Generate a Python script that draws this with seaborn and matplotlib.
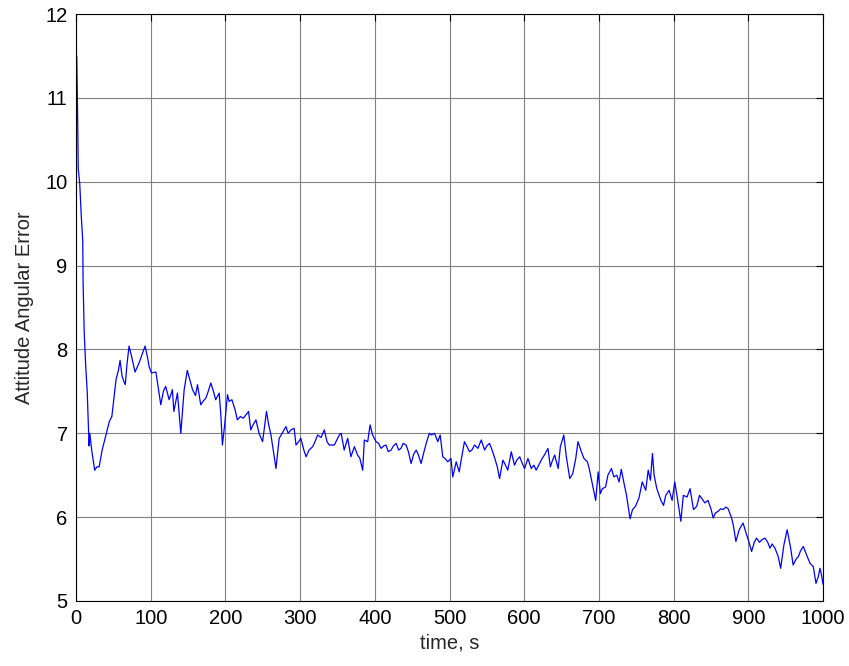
import matplotlib
matplotlib.use("Agg")
import matplotlib.pyplot as plt
import seaborn as sns
import pandas as pd

time_s = [
    1, 2, 3, 5, 7, 9, 9.5, 11, 13, 15, 16.5, 17.5, 18.5, 21, 25, 28, 31, 35, 39, 42,
    44.6, 48, 50.5, 53.6, 57, 59, 61.7, 64, 66, 68, 71, 74.6, 79, 84.5, 88, 92.5, 95.6, 98,
    101, 107, 110, 113.5, 117, 120, 124.7, 129, 131, 135.8, 140.3, 144.8, 149, 152, 156,
    160, 162.6, 167, 170, 173.9, 177, 180.5, 184, 187, 191.7, 194, 196, 199, 202.8, 205,
    208.7, 213, 216, 220, 224, 227.5, 231, 234, 237, 240.9, 245, 249.8, 255, 258, 261,
    265.4, 267.7, 272, 276, 281, 284, 287.8, 292, 294.5, 298, 301, 305, 308, 312, 316.8,
    320, 323.5, 328, 332.4, 336, 339, 345.8, 352.5, 355, 359, 363.7, 368, 372.7, 377, 380,
    383.8, 386, 390.5, 393.7, 397, 401.7, 405, 408.4, 412, 415, 418, 421.8, 425, 428.5,
    432, 435, 438, 442, 445, 448.6, 452, 455.4, 458, 462, 465, 468.8, 473, 476, 480,
    484.3, 487.5, 491, 494, 497.7, 502, 504.4, 509, 513, 516, 520, 523, 526.8, 530, 533.5,
    538, 542.5, 547, 550, 553.6, 557, 560, 564, 567, 571.5, 575, 578, 582.7, 587, 590,
    594, 597, 600.5, 605, 609.5, 613, 616, 620.6, 624, 627, 631.8, 635, 638, 640.8, 645.5,
    648.4, 653, 656.4, 661, 665, 669, 672, 676.5, 680, 684.6, 687, 690, 693.4, 695.7, 699,
    702, 704.7, 709, 712, 716.8, 720, 724, 727, 730, 733.7, 737, 741.7, 745, 749, 753.7,
    758, 762.7, 766, 769, 771.7, 773.9, 777.5, 783, 786.5, 789.5, 794, 798, 801.6, 805,
    809.7, 813, 818, 822, 826.6, 831, 834.7, 838, 841.8, 846, 850, 853, 856, 859.7, 863,
    866, 870, 873, 877.6, 880, 883.4, 887.8, 893, 897.7, 901, 904.4, 908, 911, 915, 918,
    922.3, 926, 929, 932, 935.7, 940, 943.3, 947.7, 952, 956.7, 960, 964, 967, 970, 973.6,
    978, 982.6, 987, 990.6, 993.7, 996, 998, 1000,
]

angular_error = [
    11.5, 10.9, 10.15, 9.98, 9.6, 9.3, 8.8, 8.2, 7.8, 7.5, 7.12, 6.85, 7.0, 6.8, 6.56, 6.6, 6.6, 6.8, 6.94, 7.05,
    7.14, 7.2, 7.4, 7.64, 7.76, 7.87, 7.68, 7.62, 7.58, 7.8, 8.04, 7.91, 7.73, 7.84, 7.93, 8.04, 7.91, 7.79,
    7.72, 7.73, 7.55, 7.34, 7.5, 7.56, 7.40, 7.52, 7.26, 7.48, 7.0, 7.52, 7.75, 7.65, 7.52,
    7.45, 7.58, 7.34, 7.38, 7.42, 7.5, 7.60, 7.5, 7.40, 7.48, 7.20, 6.86, 7.1, 7.46, 7.38,
    7.40, 7.28, 7.16, 7.2, 7.18, 7.22, 7.26, 7.04, 7.1, 7.16, 7.0, 6.90, 7.26, 7.1, 6.98,
    6.72, 6.58, 6.94, 7.0, 7.08, 7.0, 7.04, 7.06, 6.86, 6.9, 6.94, 6.8, 6.72, 6.8, 6.84,
    6.9, 6.98, 6.95, 7.04, 6.9, 6.86, 6.86, 6.98, 7.0, 6.80, 6.94, 6.72, 6.84, 6.74, 6.7,
    6.56, 6.92, 6.90, 7.10, 6.98, 6.90, 6.88, 6.82, 6.85, 6.86, 6.78, 6.80, 6.85, 6.88,
    6.8, 6.82, 6.88, 6.86, 6.78, 6.64, 6.75, 6.80, 6.75, 6.64, 6.75, 6.88, 7.0, 6.98, 7.0,
    6.90, 6.98, 6.72, 6.7, 6.66, 6.70, 6.48, 6.66, 6.54, 6.7, 6.90, 6.85, 6.78, 6.8, 6.86,
    6.82, 6.92, 6.80, 6.85, 6.88, 6.8, 6.72, 6.6, 6.46, 6.68, 6.62, 6.56, 6.78, 6.62, 6.68,
    6.72, 6.65, 6.58, 6.70, 6.58, 6.62, 6.56, 6.64, 6.7, 6.74, 6.82, 6.60, 6.68, 6.74, 6.58,
    6.84, 6.98, 6.72, 6.46, 6.52, 6.7, 6.90, 6.78, 6.70, 6.66, 6.58, 6.45, 6.30, 6.20, 6.54,
    6.28, 6.34, 6.36, 6.50, 6.58, 6.48, 6.50, 6.42, 6.57, 6.40, 6.26, 5.98, 6.09, 6.13, 6.23,
    6.42, 6.32, 6.56, 6.44, 6.76, 6.50, 6.34, 6.20, 6.14, 6.26, 6.32, 6.20, 6.42, 6.23,
    5.95, 6.26, 6.24, 6.34, 6.09, 6.13, 6.26, 6.22, 6.17, 6.20, 6.1, 5.99, 6.05, 6.07, 6.1,
    6.09, 6.12, 6.10, 5.99, 5.9, 5.71, 5.85, 5.93, 5.79, 5.7, 5.59, 5.7, 5.75, 5.7, 5.73,
    5.75, 5.7, 5.63, 5.68, 5.63, 5.53, 5.39, 5.67, 5.85, 5.63, 5.43, 5.5, 5.53, 5.6, 5.65,
    5.55, 5.45, 5.41, 5.21, 5.29, 5.39, 5.31, 5.2,
]

x_ticks = [0, 100, 200, 300, 400, 500, 600, 700, 800, 900, 1000]
y_ticks = [5, 6, 7, 8, 9, 10, 11, 12]
x_label = "time, s"
y_label = "Attitude Angular Error"

df = pd.DataFrame({"time": time_s, "err": angular_error})

sns.set_style("white")
plt.rcParams["font.family"] = ["Liberation Sans", "DejaVu Sans"]

fig = plt.figure(figsize=(8.49, 6.66), dpi=100)
ax = fig.add_axes([76 / 849, 1 - 601 / 666, (823 - 76) / 849, (601 - 14) / 666])

sns.lineplot(data=df, x="time", y="err", color="#0000ff", linewidth=0.9, ax=ax,
             estimator=None, sort=False)

ax.set_xlim(0, 1000)
ax.set_ylim(5, 12)
ax.set_xticks(x_ticks)
ax.set_yticks(y_ticks)
ax.set_xticklabels([str(v) for v in x_ticks])
ax.set_yticklabels([str(v) for v in y_ticks])
ax.grid(True, color="#808080", linewidth=0.8, linestyle="-")
ax.set_axisbelow(True)
ax.tick_params(axis="both", direction="in", length=5, width=0.8, labelsize=14.5,
               top=True, right=True, pad=6, colors="black")
for s in ax.spines.values():
    s.set_color("black")
    s.set_linewidth(0.8)
ax.set_xlabel(x_label, fontsize=14.5, labelpad=4)
ax.set_ylabel(y_label, fontsize=14.5, labelpad=8)

fig.savefig("out.png", dpi=100, facecolor="white")
